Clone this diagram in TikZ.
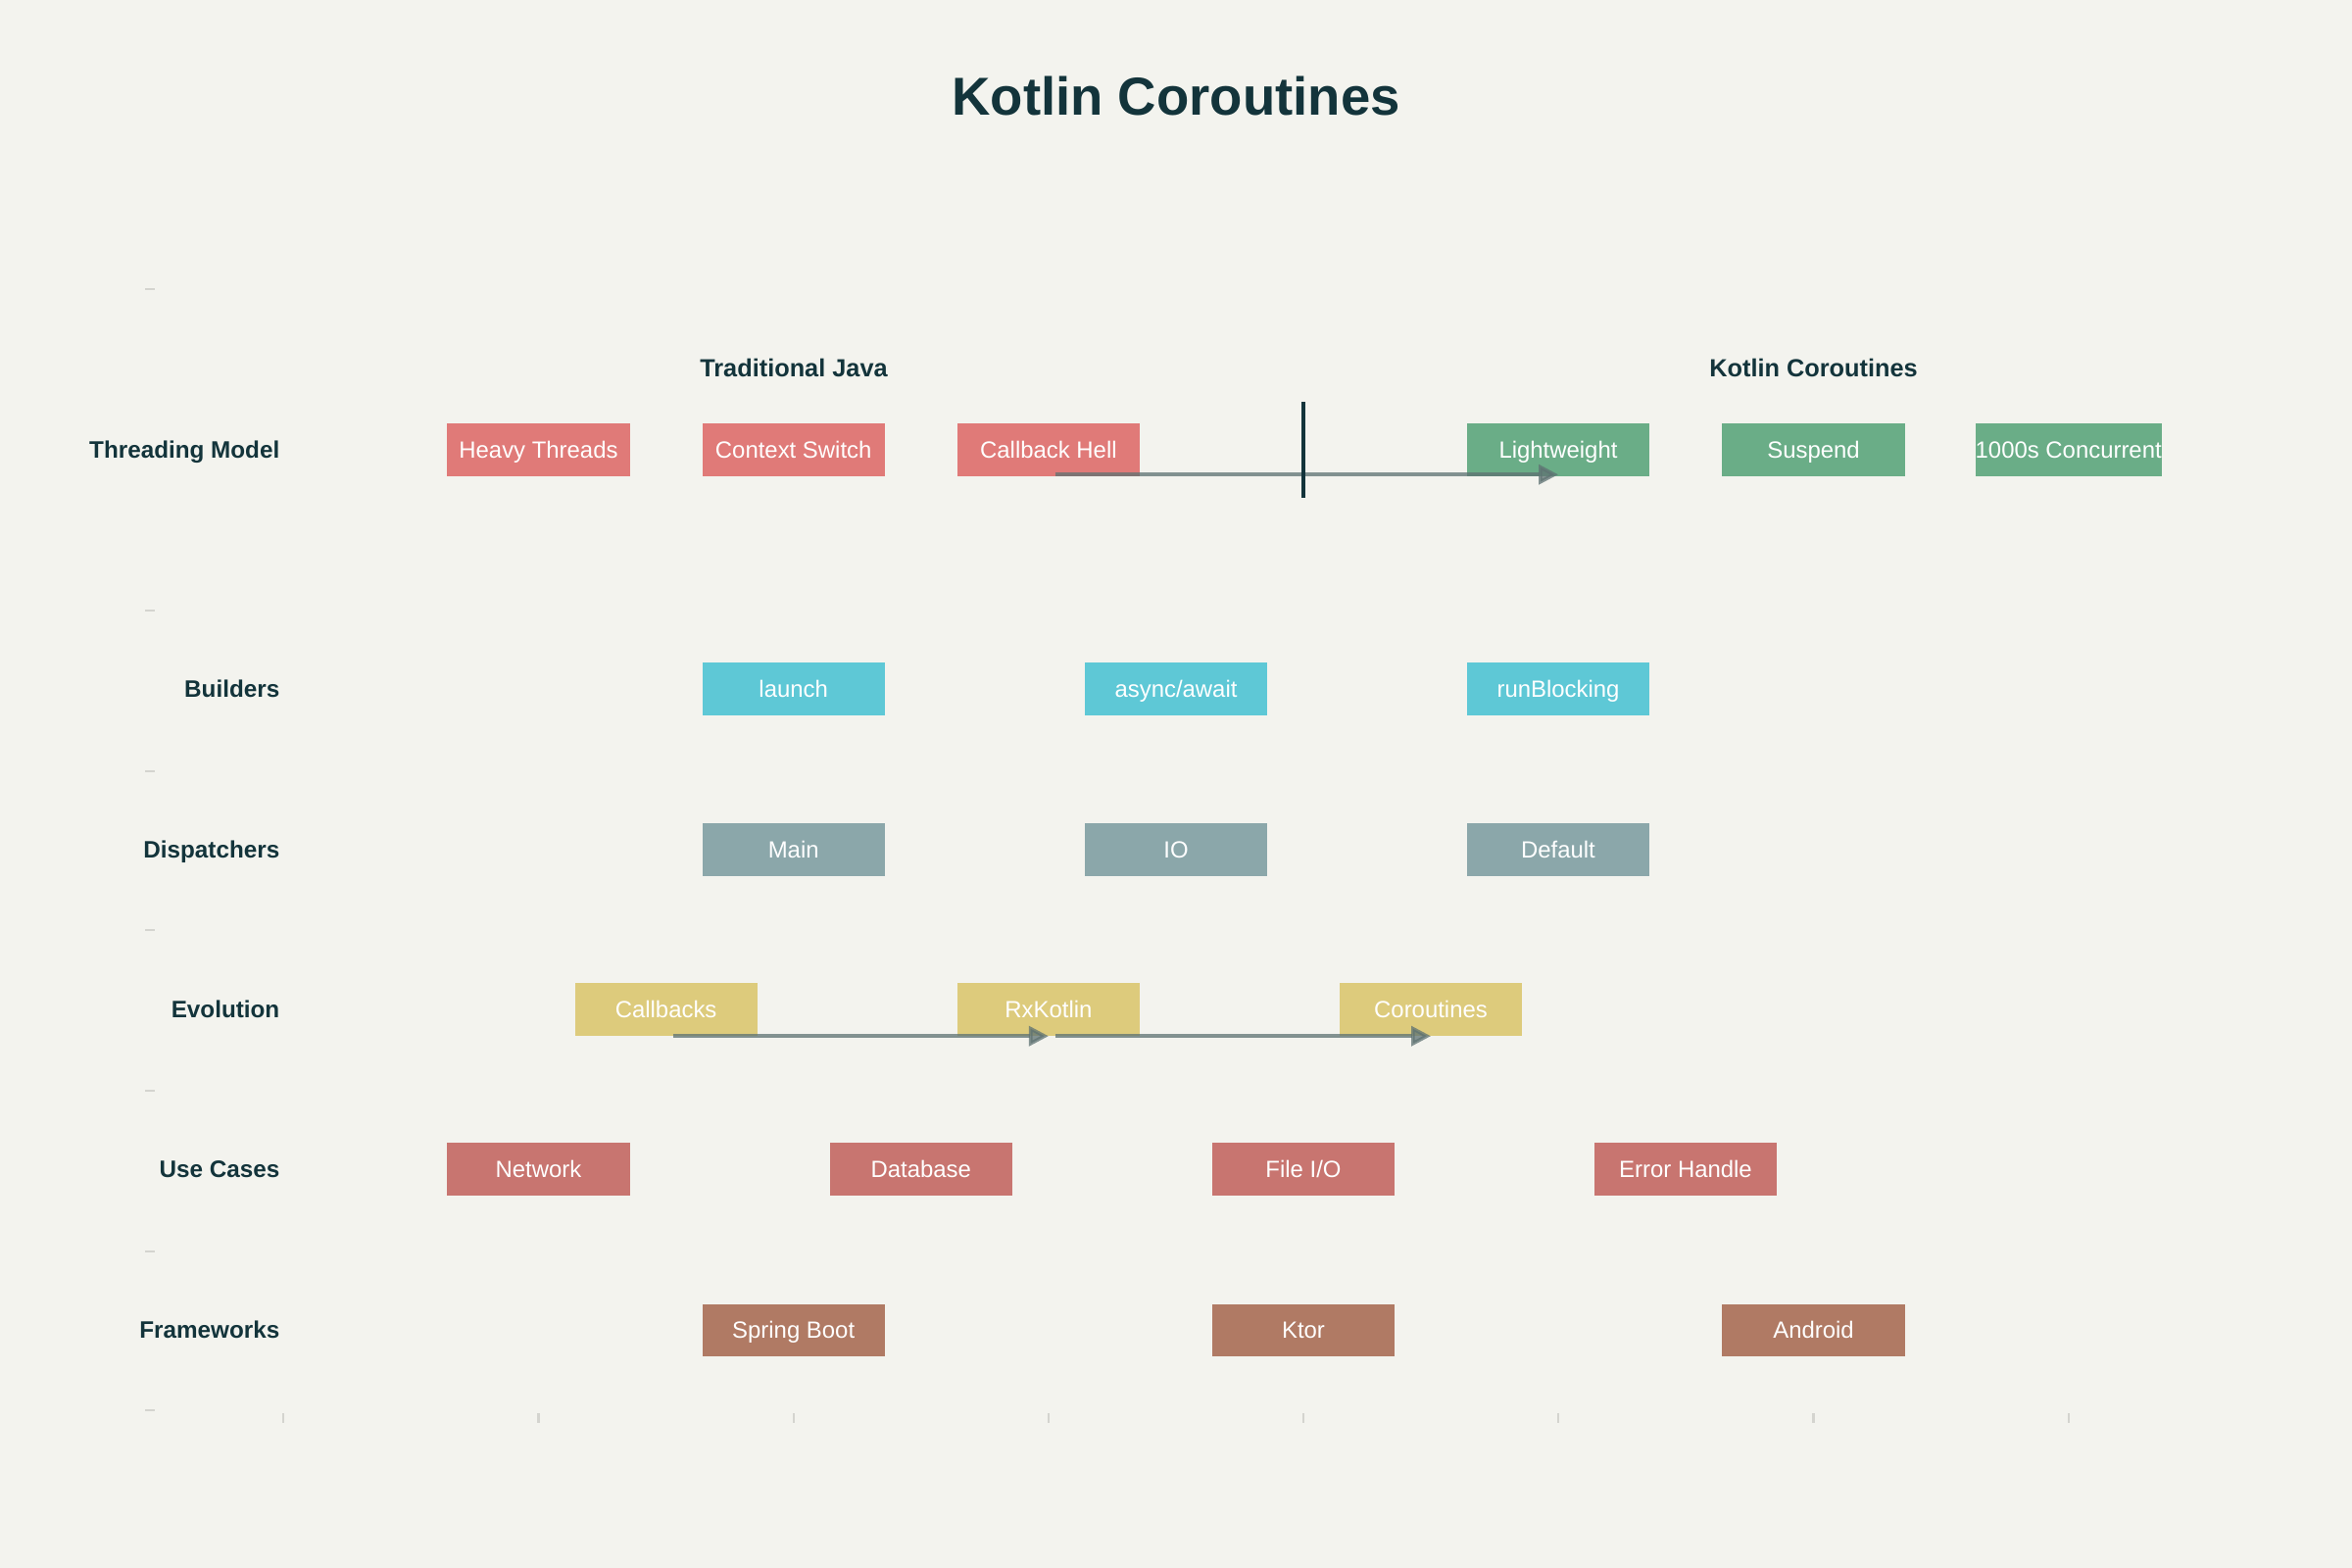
\documentclass[tikz,border=0pt]{standalone}
\usepackage{fontspec}
\setmainfont{Liberation Sans}
\usepackage{xcolor}
\usepackage{tikz}
\usetikzlibrary{arrows.meta, positioning}
\definecolor{canvas}{HTML}{F3F3EE}
\definecolor{ink}{HTML}{13343B}
\definecolor{javared}{HTML}{E07A78}
\definecolor{ktgreen}{HTML}{6AAD87}
\definecolor{buildcyan}{HTML}{5EC8D6}
\definecolor{dispgray}{HTML}{8BA7AA}
\definecolor{evoyellow}{HTML}{DDCB7C}
\definecolor{usered}{HTML}{C87570}
\definecolor{fwbrown}{HTML}{B07A64}
\definecolor{flowgray}{HTML}{5E7272}
\definecolor{tickgray}{HTML}{D4D4CF}
\tikzset{
    item/.style={rectangle, minimum width=1.86cm, minimum height=0.53cm, inner sep=0pt, text height=4.9pt, text depth=0pt, text centered, text=white, font=\fontsize{6.8}{8}\selectfont},
    rowlabel/.style={anchor=east, inner sep=0pt, text height=4.95pt, text depth=0pt, text=ink, font=\bfseries\fontsize{6.9}{8}\selectfont},
    colhead/.style={inner sep=0pt, text=ink, font=\bfseries\fontsize{7.2}{8}\selectfont},
    flow/.style={-{Triangle[length=0.2cm, width=0.2cm]}, line width=1.05pt, draw=flowgray, fill=flowgray, opacity=0.75},
    divider/.style={line width=1.05pt, draw=ink},
    axistick/.style={draw=tickgray, line width=0.6pt}
}

\begin{document}
\begin{tikzpicture}[
    x=0.01cm, y=-0.01cm,
    java/.style={item, fill=javared},
    kotlin/.style={item, fill=ktgreen},
    builder/.style={item, fill=buildcyan},
    dispatcher/.style={item, fill=dispgray},
    evolution/.style={item, fill=evoyellow},
    usecase/.style={item, fill=usered},
    framework/.style={item, fill=fwbrown}
]
    % Canvas
    \useasboundingbox (0,0) rectangle (2400,1600);
    \fill[canvas] (0,0) rectangle (2400,1600);

    % Title
    \node[text=ink, font=\bfseries\fontsize{15.5}{18}\selectfont] (title) at (1200,98) {Kotlin Coroutines};

    % Axis ticks
    \draw[axistick] (148,295) -- (158,295) (148,623) -- (158,623) (148,787) -- (158,787)
        (148,949) -- (158,949) (148,1113) -- (158,1113) (148,1277) -- (158,1277) (148,1439) -- (158,1439);
    \draw[axistick] (289,1442) -- (289,1452) (549.5,1442) -- (549.5,1452) (809.7,1442) -- (809.7,1452)
        (1069.9,1442) -- (1069.9,1452) (1330,1442) -- (1330,1452) (1590,1442) -- (1590,1452)
        (1850.5,1442) -- (1850.5,1452) (2110.7,1442) -- (2110.7,1452);

    % Column headers
    \node[colhead] (javahead) at (810,375) {Traditional Java};
    \node[colhead] (kthead) at (1850.5,375) {Kotlin Coroutines};

    % Row labels
    \node[rowlabel] (lthreading) at (286,459) {Threading Model};
    \node[rowlabel] (lbuilders) at (286,703) {Builders};
    \node[rowlabel] (ldispatchers) at (286,867) {Dispatchers};
    \node[rowlabel] (levolution) at (286,1030) {Evolution};
    \node[rowlabel] (lusecases) at (286,1193) {Use Cases};
    \node[rowlabel] (lframeworks) at (286,1357) {Frameworks};

    % Threading model
    \node[java] (heavy) at (549.5,459) {Heavy Threads};
    \node[java] (ctxswitch) at (809.7,459) {Context Switch};
    \node[java] (cbhell) at (1069.9,459) {Callback Hell};
    \node[kotlin] (light) at (1590,459) {Lightweight};
    \node[kotlin] (suspend) at (1850.5,459) {Suspend};
    \node[kotlin] (concurrent) at (2110.7,459) {1000s Concurrent};

    % Builders
    \node[builder] (launch) at (809.7,703) {launch};
    \node[builder] (asyncawait) at (1200,703) {async/await};
    \node[builder] (runblocking) at (1590,703) {runBlocking};

    % Dispatchers
    \node[dispatcher] (dmain) at (809.7,867) {Main};
    \node[dispatcher] (dio) at (1200,867) {IO};
    \node[dispatcher] (ddefault) at (1590,867) {Default};

    % Evolution
    \node[evolution] (callbacks) at (679.6,1030) {Callbacks};
    \node[evolution] (rxkotlin) at (1069.9,1030) {RxKotlin};
    \node[evolution] (coroutines) at (1460,1030) {Coroutines};

    % Use cases
    \node[usecase] (network) at (549.5,1193) {Network};
    \node[usecase] (database) at (939.8,1193) {Database};
    \node[usecase] (fileio) at (1330,1193) {File I/O};
    \node[usecase] (errorhandle) at (1720,1193) {Error Handle};

    % Frameworks
    \node[framework] (spring) at (809.7,1357) {Spring Boot};
    \node[framework] (ktor) at (1330,1357) {Ktor};
    \node[framework] (android) at (1850.5,1357) {Android};

    % Connections
    \draw[flow] ([xshift=0.07cm, yshift=0.02cm]cbhell.south) -- ([yshift=0.02cm]light.south);
    \draw[flow] ([xshift=0.07cm]callbacks.south) -- (rxkotlin.south);
    \draw[flow] ([xshift=0.07cm]rxkotlin.south) -- (coroutines.south);

    % Divider
    \coordinate (divtop) at (1330,410);
    \coordinate (divbot) at (1330,508);
    \draw[divider] (divtop) -- (divbot);
\end{tikzpicture}
\end{document}
